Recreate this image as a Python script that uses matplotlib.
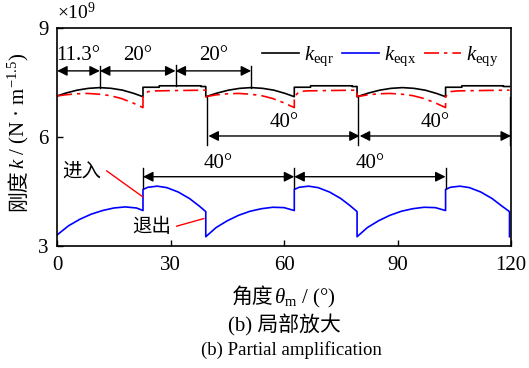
import numpy as np
import matplotlib.pyplot as plt

plt.rcParams['font.family'] = ['Liberation Serif', 'Noto Sans CJK SC']
plt.rcParams['mathtext.fontset'] = 'custom'
plt.rcParams['mathtext.rm'] = 'Liberation Serif'
plt.rcParams['mathtext.it'] = 'Liberation Serif:italic'

# angle (deg) and stiffness (x1e9 N/m^1.5)
x_r = [0, 2.3, 5.3, 8.3, 11.3, 14.3, 17.3, 20.3, 22.7, 22.7, 27, 27, 38, 38, 39.3,
       39.3, 42.3, 45.3, 48.3, 51.3, 54.3, 57.3, 60.3, 62.7, 62.7, 67, 67, 78, 78, 79.3,
       79.3, 82.3, 85.3, 88.3, 91.3, 94.3, 97.3, 100.3, 102.7, 102.7, 107, 107, 118, 118, 119.6]
k_r = [7.12, 7.20, 7.28, 7.33, 7.35, 7.33, 7.28, 7.19, 7.10, 7.36, 7.36, 7.40, 7.40, 7.38, 7.38,
       7.10, 7.20, 7.28, 7.33, 7.35, 7.33, 7.28, 7.19, 7.10, 7.36, 7.36, 7.40, 7.40, 7.38, 7.38,
       7.10, 7.20, 7.28, 7.33, 7.35, 7.33, 7.28, 7.19, 7.10, 7.36, 7.36, 7.40, 7.40, 7.38, 7.38]

x_x = [0, 3, 6, 9, 12, 15, 18, 21, 22.7, 22.7, 24, 26.5, 29, 32, 35, 37.5, 39.3,
       39.3, 42, 45, 48, 51, 54, 57, 60, 62.7, 62.7, 64, 66.5, 69, 72, 75, 77.5, 79.3,
       79.3, 82, 85, 88, 91, 94, 97, 100, 102.7, 102.7, 104, 106.5, 109, 112, 115, 117.5, 119.6, 119.6]
k_x = [3.30, 3.55, 3.73, 3.87, 3.97, 4.04, 4.07, 4.04, 3.97, 4.55, 4.61, 4.64, 4.60, 4.48, 4.30, 4.10, 3.94,
       3.25, 3.50, 3.69, 3.84, 3.95, 4.02, 4.06, 4.05, 3.97, 4.55, 4.61, 4.64, 4.60, 4.48, 4.30, 4.10, 3.94,
       3.25, 3.50, 3.69, 3.84, 3.95, 4.02, 4.06, 4.05, 3.97, 4.55, 4.61, 4.64, 4.60, 4.48, 4.30, 4.10, 3.94, 3.25]

x_y = [0, 2, 5, 8, 11, 14, 17, 20, 22.7, 22.7, 24, 26, 32, 39.3,
       39.3, 42, 45, 48, 51, 54, 57, 60, 62.7, 62.7, 64, 66, 72, 79.3,
       79.3, 82, 85, 88, 91, 94, 97, 100, 102.7, 102.7, 104, 106, 112, 119.6]
k_y = [7.12, 7.15, 7.18, 7.19, 7.17, 7.13, 7.05, 6.93, 6.80, 7.10, 7.24, 7.26, 7.27, 7.28,
       7.10, 7.15, 7.18, 7.19, 7.17, 7.13, 7.05, 6.93, 6.80, 7.10, 7.24, 7.26, 7.27, 7.28,
       7.10, 7.15, 7.18, 7.19, 7.17, 7.13, 7.05, 6.93, 6.80, 7.10, 7.24, 7.26, 7.27, 7.28]

W, H = 529, 368
fig = plt.figure(figsize=(W / 100, H / 100), dpi=100)
ax = fig.add_axes([0.108, 0.332, 0.858, 0.593])

ax.plot(x_r, k_r, color='black', lw=1.2, label=r'$k_{\rm eqr}$')
ax.plot(x_x, k_x, color='blue', lw=1.2, label=r'$k_{\rm eqx}$')
ax.plot(x_y, k_y, color='red', lw=1.2, dashes=(9, 3, 2, 3), label=r'$k_{\rm eqy}$')

ax.set_xlim(0, 120)
ax.set_ylim(3, 9)
ax.set_xticks([0, 30, 60, 90, 120])
ax.set_yticks([3, 6, 9])
ax.tick_params(direction='in', labelsize=15, length=4, width=1)
ax.tick_params(axis='x', pad=7)
ax.tick_params(axis='y', pad=6)
for s in ax.spines.values():
    s.set_linewidth(1.2)

ax.legend(loc='center', ncol=3, frameon=False, fontsize=15,
          handlelength=1.8, handletextpad=0.25, columnspacing=0.35,
          borderaxespad=0.0, borderpad=0.0, bbox_to_anchor=(0.712, 0.868))

arw = dict(arrowstyle='<|-|>', color='black', lw=1, mutation_scale=15, shrinkA=0, shrinkB=0)

def dim(x0, x1, y, txt, ty):
    ax.annotate('', xy=(x0, y), xytext=(x1, y), arrowprops=arw)
    ax.text((x0 + x1) / 2, ty, txt, ha='center', va='center', fontsize=15)

# top dimension arrows
dim(0, 11.3, 7.81, '11.3°', 8.22)
dim(11.3, 31.3, 7.81, '20°', 8.22)
dim(31.3, 51.3, 7.81, '20°', 8.22)
for xv, y0, y1 in [(11.3, 7.35, 7.95), (31.3, 7.40, 7.98), (51.3, 7.33, 7.95)]:
    ax.plot([xv, xv], [y0, y1], color='black', lw=1)

# middle dimension arrows
dim(40, 80, 6.02, '40°', 6.38)
dim(80, 120, 6.02, '40°', 6.38)
for xv in [39.6, 79.6, 119.6]:
    ax.plot([xv, xv], [7.1, 5.78], color='black', lw=1)

# lower dimension arrows
dim(22.7, 62.7, 4.90, '40°', 5.27)
dim(62.7, 102.7, 4.90, '40°', 5.27)
for xv in [22.7, 62.7, 102.7]:
    ax.plot([xv, xv], [5.15, 4.60], color='black', lw=1)

# labels for entry/exit
ax.plot([13.1, 22.6], [5.06, 4.35], color='red', lw=1)
ax.text(6.5, 5.04, '进入', ha='center', va='center', fontsize=14)
ax.plot([31.6, 38.8], [3.54, 3.75], color='red', lw=1)
ax.text(25.0, 3.52, '退出', ha='center', va='center', fontsize=14)

fig.text(57 / W, 1 - 12 / H, r'$\times\mathregular{10^9}$', fontsize=14, va='center', ha='left')


def compound(parts, cx, cy, rotation=0, fontsize=15):
    # chain text pieces (CJK + mathtext) along the baseline, centred at pixel (cx, cy from top)
    r = fig.canvas.get_renderer()
    texts = [fig.text(0, 0, p, fontsize=fontsize, ha='left', va='baseline',
                      rotation_mode='anchor') for p in parts]
    widths = [t.get_window_extent(r).width for t in texts]
    total = sum(widths)
    pos = -total / 2
    for t, w in zip(texts, widths):
        t.set_rotation(rotation)
        if rotation == 0:
            t.set_position(((cx + pos) / W, 1 - cy / H))
        else:
            t.set_position((cx / W, 1 - (cy - pos) / H))
        pos += w


compound(['刚度', r'$k$ / (N · m$^{\mathregular{-1.5}}$)'], 24, 132, rotation=90)
compound(['角度', r'$\theta_{\rm m}$ / (°)'], 284, 303)
fig.text(284 / W, 1 - 325 / H, '(b) 局部放大', ha='center', va='center', fontsize=15)
fig.text(291 / W, 1 - 350 / H, '(b) Partial amplification', ha='center', va='center', fontsize=13.5)

fig.savefig('out.png', dpi=100)
